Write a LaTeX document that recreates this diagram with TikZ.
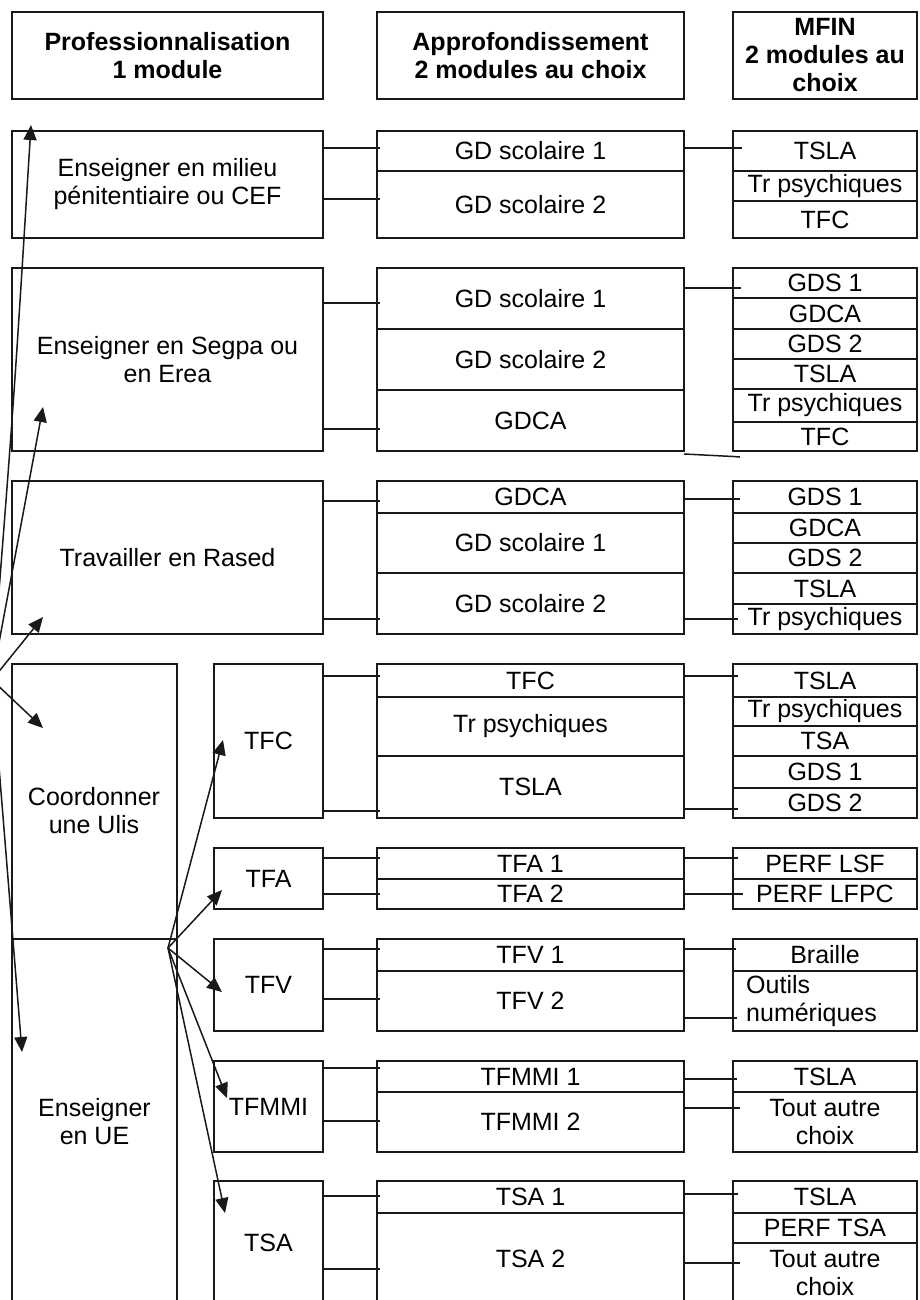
\documentclass[tikz,border=0pt]{standalone}
\usepackage{fontspec}
\setmainfont{Liberation Sans}
\usetikzlibrary{arrows.meta}
\tikzset{
  cell/.style={draw=black!90, line width=1.6pt, inner sep=0pt, outer sep=0pt, align=center,
               rectangle, font=\fontsize{25}{28}\selectfont},
  head/.style={cell, font=\fontsize{25}{28}\selectfont\bfseries},
  txt/.style={inner sep=0pt, font=\fontsize{25}{28}\selectfont},
  conn/.style={draw=black!90, line width=1.5pt},
  arr/.style={draw=black!90, line width=1.5pt, -{Triangle[length=15pt,width=13pt]}},
}
\newcommand\cellbox[7][cell]{%
  \pgfmathsetmacro\cw{#5-#3}\pgfmathsetmacro\ch{#6-#4}%
  \pgfmathsetmacro\cx{(#3+#5)/2}\pgfmathsetmacro\cy{(#4+#6)/2}%
  \node[#1, minimum width=\cw pt, minimum height=\ch pt] (#2) at (\cx,\cy) {#7};}
\newcommand\lk[4]{\draw[conn] (#1.east |- 0,#3) -- (#2.west |- 0,#3) -- ++(#4,0);}
\begin{document}
\begin{tikzpicture}[x=1pt,y=-1pt]
\useasboundingbox (0,0) rectangle (919,1300);
\clip (0,0) rectangle (919,1300);
% headers
\cellbox[head]{h1}{12}{12}{323}{99}{Professionnalisation\\1 module}
\cellbox[head]{h2}{377}{12}{684}{99}{Approfondissement\\2 modules au choix}
\cellbox[head]{h3}{733}{12}{917}{99}{MFIN\\2 modules au\\choix}
% row 1
\cellbox{p1}{12}{131}{323}{238}{Enseigner en milieu\\pénitentiaire ou CEF}
\cellbox{a11}{377}{131}{684}{171}{GD scolaire 1}
\cellbox{a12}{377}{171}{684}{238}{GD scolaire 2}
\cellbox{m11}{733}{131}{917}{171}{TSLA}
\cellbox{m12}{733}{171}{917}{201}{Tr psychiques}
\cellbox{m13}{733}{201}{917}{238}{TFC}
% row 2
\cellbox{p2}{12}{268}{323}{451}{Enseigner en Segpa ou\\en Erea}
\cellbox{a21}{377}{268}{684}{329}{GD scolaire 1}
\cellbox{a22}{377}{329}{684}{390}{GD scolaire 2}
\cellbox{a23}{377}{390}{684}{451}{GDCA}
\cellbox{m21}{733}{268}{917}{298}{GDS 1}
\cellbox{m22}{733}{298}{917}{329}{GDCA}
\cellbox{m23}{733}{329}{917}{359}{GDS 2}
\cellbox{m24}{733}{359}{917}{389}{TSLA}
\cellbox{m25}{733}{389}{917}{422}{Tr psychiques}
\cellbox{m26}{733}{422}{917}{451}{TFC}
% row 3
\cellbox{p3}{12}{481}{323}{634}{Travailler en Rased}
\cellbox{a31}{377}{481}{684}{513}{GDCA}
\cellbox{a32}{377}{513}{684}{573}{GD scolaire 1}
\cellbox{a33}{377}{573}{684}{634}{GD scolaire 2}
\cellbox{m31}{733}{481}{917}{513}{GDS 1}
\cellbox{m32}{733}{513}{917}{543}{GDCA}
\cellbox{m33}{733}{543}{917}{573}{GDS 2}
\cellbox{m34}{733}{573}{917}{604}{TSLA}
\cellbox{m35}{733}{604}{917}{634}{Tr psychiques}
% Ulis / UE
\cellbox{p4}{12}{664}{177}{939}{}
\node[txt, align=center] (p4t) at (94,811) {Coordonner\\une Ulis};
\cellbox{p5}{12}{939}{177}{1304}{Enseigner\\en UE}
% TFC
\cellbox{s1}{214}{664}{323}{818}{TFC}
\cellbox{b11}{377}{664}{684}{697}{TFC}
\cellbox{b12}{377}{697}{684}{756}{Tr psychiques}
\cellbox{b13}{377}{756}{684}{818}{TSLA}
\cellbox{n11}{733}{664}{917}{697}{TSLA}
\cellbox{n12}{733}{697}{917}{726}{Tr psychiques}
\cellbox{n13}{733}{726}{917}{756}{TSA}
\cellbox{n14}{733}{756}{917}{788}{GDS 1}
\cellbox{n15}{733}{788}{917}{818}{GDS 2}
% TFA
\cellbox{s2}{214}{848}{323}{909}{TFA}
\cellbox{b21}{377}{848}{684}{879}{TFA 1}
\cellbox{b22}{377}{879}{684}{909}{TFA 2}
\cellbox{n21}{733}{848}{917}{879}{PERF LSF}
\cellbox{n22}{733}{879}{917}{909}{PERF LFPC}
% TFV
\cellbox{s3}{214}{939}{323}{1031}{TFV}
\cellbox{b31}{377}{939}{684}{971}{TFV 1}
\cellbox{b32}{377}{971}{684}{1031}{TFV 2}
\cellbox{n31}{733}{939}{917}{971}{Braille}
\cellbox{n32}{733}{971}{917}{1031}{}
\node[txt, anchor=west, align=left] (n32t) at (746,1001) {Outils\\numériques};
% TFMMI
\cellbox{s4}{214}{1061}{323}{1152}{TFMMI}
\cellbox{b41}{377}{1061}{684}{1092}{TFMMI 1}
\cellbox{b42}{377}{1092}{684}{1152}{TFMMI 2}
\cellbox{n41}{733}{1061}{917}{1092}{TSLA}
\cellbox{n42}{733}{1092}{917}{1152}{Tout autre\\choix}
% TSA
\cellbox{s5}{214}{1181}{323}{1304}{TSA}
\cellbox{b51}{377}{1181}{684}{1213}{TSA 1}
\cellbox{b52}{377}{1213}{684}{1304}{TSA 2}
\cellbox{n51}{733}{1181}{917}{1213}{TSLA}
\cellbox{n52}{733}{1213}{917}{1243}{PERF TSA}
\cellbox{n53}{733}{1243}{917}{1304}{Tout autre\\choix}
% connectors
\lk{p1}{a11}{148}{3} \lk{p1}{a12}{199}{3}
\lk{a11}{m11}{148}{9}
\lk{p2}{a21}{303}{3} \lk{p2}{a23}{429}{3}
\lk{a21}{m21}{288}{8}
\draw[conn] (a23.east |- 0,454) -- (m26.west |- 0,456.5) -- ++(7,0.5);
\lk{p3}{a31}{501}{3} \lk{p3}{a33}{619}{3}
\lk{a31}{m31}{499}{7} \lk{a33}{m35}{619}{5}
\lk{s1}{b11}{676}{3} \lk{s1}{b13}{811}{3}
\lk{b11}{n11}{676}{5} \lk{b13}{n15}{809}{5}
\lk{s2}{b21}{858}{3} \lk{s2}{b22}{894}{3}
\lk{b21}{n21}{858}{5} \lk{b22}{n22}{894}{10}
\lk{s3}{b31}{949}{3} \lk{s3}{b32}{999}{3}
\lk{b31}{n31}{949}{3} \lk{b32}{n32}{1018}{4}
\lk{s4}{b41}{1068}{3} \lk{s4}{b42}{1121}{3}
\lk{b41}{n41}{1079}{4} \lk{b42}{n42}{1108}{7}
\lk{s5}{b51}{1196}{3} \lk{s5}{b52}{1269}{3}
\lk{b51}{n51}{1194}{5} \lk{b52}{n53}{1263}{7}
% left arrows
\coordinate (L) at (-8,680);
\coordinate (tA) at (31,125);
\coordinate (tB) at (43,407);
\coordinate (tC) at (43,617);
\coordinate (tD) at (43,728);
\coordinate (tE) at (22,1052);
\draw[arr] (L) .. controls (14,400) .. (tA);
\draw[arr] (L) -- (tB);
\draw[arr] (L) -- (tC);
\draw[arr] (L) -- (tD);
\draw[arr] (L) -- (tE);
% middle arrows
\coordinate (M) at (168,948);
\coordinate (uA) at (223,740);
\coordinate (uB) at (222,890);
\coordinate (uC) at (222,992);
\coordinate (uD) at (227,1098);
\coordinate (uE) at (225,1213);
\draw[arr] (M) -- (uA);
\draw[arr] (M) -- (uB);
\draw[arr] (M) -- (uC);
\draw[arr] (M) -- (uD);
\draw[arr] (M) -- (uE);
\end{tikzpicture}
\end{document}
